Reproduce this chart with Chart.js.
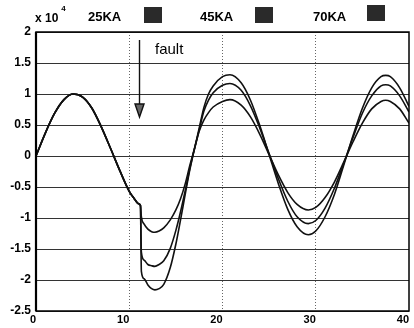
<!DOCTYPE html>
<html><head><meta charset="utf-8">
<script src="https://cdn.jsdelivr.net/npm/chart.js@4.4.1/dist/chart.umd.min.js"></script>
<style>html,body{margin:0;padding:0;background:#fff;}#wrap{width:414px;height:328px;}</style>
</head><body><div id="wrap"><canvas id="c" width="414" height="328"></canvas></div>
<script>
// time in ms, current in units of 10^4 A
const timeMs = [0,1,2,3,4,5,6,7,8,9,10,10.5,11,11.2,11.3,11.6,12,12.4,12.75,13.2,13.7,14.4,15,15.5,16,16.5,17,17.5,18,18.5,19,20,20.8,22,23,24,25,26,27,28,29.2,30,31,32,33,34,35,36,37,37.5,38,39,40];
const current25KA = [0,0.37,0.69,0.91,1.0,0.95,0.77,0.47,0.12,-0.24,-0.57,-0.68,-0.77,-0.80,
  -0.98,-1.10,-1.18,-1.22,-1.23,-1.21,-1.16,-1.03,-0.87,-0.69,-0.45,-0.15,0.12,0.40,0.58,0.70,0.79,0.88,0.91,
  0.82,0.63,0.35,0.02,-0.31,-0.59,-0.78,-0.87,-0.83,-0.67,-0.42,-0.10,0.23,0.53,0.76,0.88,0.90,0.88,0.76,0.53];
const current45KA = [0,0.37,0.69,0.91,1.0,0.95,0.77,0.47,0.12,-0.24,-0.57,-0.68,-0.77,-0.80,
  -1.55,-1.68,-1.75,-1.77,-1.78,-1.75,-1.69,-1.49,-1.20,-0.90,-0.56,-0.20,0.12,0.42,0.72,0.90,1.02,1.14,1.17,
  1.06,0.81,0.45,0.04,-0.37,-0.73,-0.98,-1.09,-1.04,-0.84,-0.52,-0.12,0.30,0.69,0.97,1.13,1.15,1.13,0.97,0.71];
const current70KA = [0,0.37,0.69,0.91,1.0,0.95,0.77,0.47,0.12,-0.24,-0.57,-0.68,-0.77,-0.80,
  -1.86,-1.98,-2.08,-2.14,-2.16,-2.14,-2.07,-1.80,-1.42,-1.03,-0.62,-0.22,0.12,0.45,0.78,1.00,1.13,1.28,1.31,
  1.18,0.90,0.49,0.02,-0.45,-0.86,-1.14,-1.27,-1.21,-0.98,-0.62,-0.15,0.33,0.77,1.10,1.28,1.30,1.28,1.10,0.80];
const seriesLabels = ['25KA','45KA','70KA'];
const yScaleLabel = 'x 10';
const yScaleExp = '4';
const faultTime = 11.1;
const faultLabel = 'fault';

const toPts = (vals) => timeMs.map((t,i)=>({x:t,y:vals[i]}));
const FONT = '"Liberation Sans", Arial, sans-serif';

const decor = {
  id:'decor',
  afterDraw(chart){
    const {ctx, chartArea:a, scales} = chart;
    ctx.save();
    // frame
    ctx.strokeStyle='#000'; ctx.lineWidth=1.5; ctx.setLineDash([]);
    ctx.strokeRect(a.left, a.top, a.right-a.left, a.bottom-a.top);
    ctx.lineWidth=2.2;
    ctx.beginPath(); ctx.moveTo(a.left, a.top); ctx.lineTo(a.left, a.bottom); ctx.stroke();
    // exponent label
    ctx.fillStyle='#000'; ctx.textBaseline='alphabetic'; ctx.textAlign='left';
    ctx.font='bold 12px '+FONT;
    ctx.fillText(yScaleLabel, 35, 22);
    const w = ctx.measureText(yScaleLabel).width;
    ctx.font='bold 8px '+FONT;
    ctx.fillText(yScaleExp, 35+w+3, 11);
    // legend: text then box
    const legendX = [88, 200, 313];
    const boxX = [144, 255, 367];
    ctx.font='bold 13px '+FONT;
    seriesLabels.forEach((lab,i)=>{
      ctx.fillStyle='#000';
      ctx.fillText(lab, legendX[i], 21);
      ctx.fillStyle='#2a2a2a';
      ctx.fillRect(boxX[i], i===2?5:7, 18, 16);
    });
    // fault arrow
    const fx = scales.x.getPixelForValue(faultTime);
    ctx.strokeStyle='#111'; ctx.lineWidth=1.4;
    ctx.beginPath(); ctx.moveTo(fx, 40); ctx.lineTo(fx, 112); ctx.stroke();
    ctx.beginPath(); ctx.moveTo(fx-4.5, 104); ctx.lineTo(fx+4.5, 104); ctx.lineTo(fx, 117); ctx.closePath();
    ctx.fillStyle='#666'; ctx.fill(); ctx.stroke();
    ctx.fillStyle='#000'; ctx.font='15px '+FONT;
    ctx.fillText(faultLabel, 155, 54);
    ctx.restore();
  }
};

new Chart(document.getElementById('c'), {
  type:'line',
  data:{datasets:[
    {label:seriesLabels[0], data:toPts(current25KA)},
    {label:seriesLabels[1], data:toPts(current45KA)},
    {label:seriesLabels[2], data:toPts(current70KA)}
  ]},
  options:{
    responsive:false, animation:false,
    layout:{padding:{left:0,right:5,top:32,bottom:0}},
    plugins:{legend:{display:false}, tooltip:{enabled:false}},
    elements:{point:{radius:0}, line:{borderWidth:1.6, borderColor:'#111', cubicInterpolationMode:'monotone', fill:false}},
    scales:{
      x:{type:'linear', min:0, max:40,
        ticks:{stepSize:10, align:'end', color:'#000', padding:2, maxRotation:0, font:{family:FONT, weight:'bold', size:11}, callback:(v)=>String(v)},
        grid:{drawTicks:false, lineWidth:1, color:(c)=> (c.tick && (c.tick.value===0 || c.tick.value===40)) ? 'rgba(0,0,0,0)' : '#666'},
        border:{display:false, dash:[1,2]},
        afterFit(s){ s.height = 17; }
      },
      y:{min:-2.5, max:2,
        ticks:{stepSize:0.5, color:'#000', padding:5, font:{family:FONT, weight:'bold', size:12}, callback:(v)=>String(v)},
        grid:{drawTicks:false, lineWidth:1, color:'#333'},
        border:{display:false},
        afterFit(s){ s.width = 36; }
      }
    }
  },
  plugins:[decor]
});
</script>
</body></html>
